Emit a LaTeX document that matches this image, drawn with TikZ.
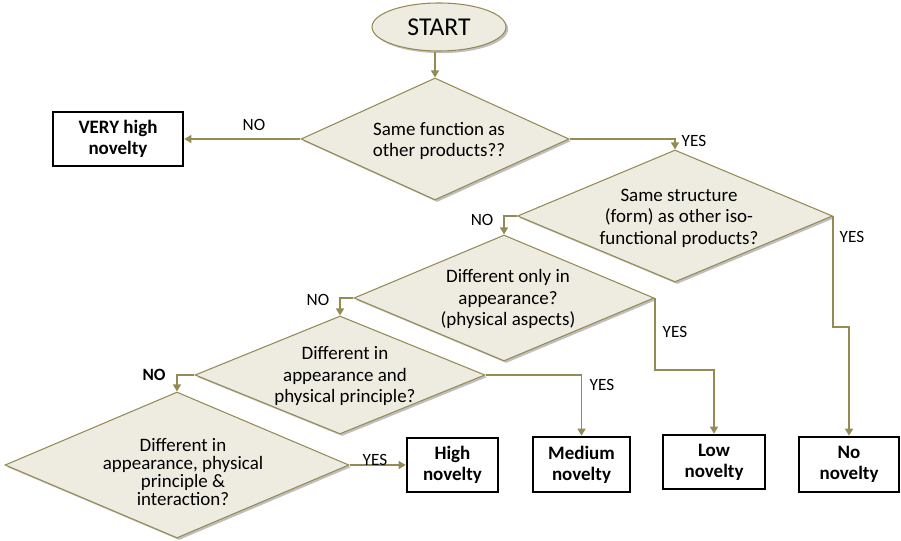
\documentclass[tikz,border=0pt]{standalone}
\usepackage{fontspec}
\setmainfont{Carlito}
\usetikzlibrary{shapes.geometric,arrows.meta,shadows}
\definecolor{flowline}{HTML}{948A54}
\definecolor{boxfill}{HTML}{EEECE1}
\begin{document}
\begin{tikzpicture}[x=0.02cm,y=-0.02cm,
  softshadow/.style={drop shadow={shadow xshift=1.2pt,shadow yshift=-1.2pt,opacity=0.25,fill=black}},
  terminal/.style={ellipse,draw=flowline,line width=0.6pt,fill=boxfill,softshadow,inner sep=0pt,
    minimum width=134*0.02cm,minimum height=48*0.02cm,font=\fontsize{14.6}{16}\selectfont},
  decision/.style 2 args={diamond,draw=flowline,line width=0.6pt,fill=boxfill,softshadow,inner sep=0pt,
    minimum width=#1*0.02cm,minimum height=#2*0.02cm},
  qtext/.style={align=center,inner sep=0pt,font=\fontsize{10.8}{12.2}\selectfont},
  result/.style 2 args={draw=black,line width=1.5pt,fill=white,align=center,inner sep=0pt,
    minimum width=#1*0.02cm,minimum height=#2*0.02cm,font=\bfseries\fontsize{10.8}{11.8}\selectfont},
  lbl/.style={inner sep=0pt,font=\fontsize{9.8}{11}\selectfont},
  flow/.style={draw=flowline,line width=1.1pt,-{Triangle[width=4.5pt,length=4pt]}}]
\useasboundingbox (0,0) rectangle (901,540);
\node[terminal] (start) at (439,27) {START};
\node[decision={268}{122}] (q1) at (435,139) {};
\node[qtext] (q1t) at (439,141) {Same function as\\other products??};
\node[decision={315}{132}] (q2) at (675,216) {};
\node[qtext] (q2t) at (679,218) {Same structure\\(form) as other iso-\\functional products?};
\node[decision={300}{126}] (q3) at (504,298) {};
\node[qtext] (q3t) at (508,299) {Different only in\\appearance?\\(physical aspects)};
\node[decision={290}{118}] (q4) at (340,375) {};
\node[qtext] (q4t) at (345,376) {Different in\\appearance and\\physical principle?};
\node[decision={344}{146}] (q5) at (177,465) {};
\node[qtext,font=\fontsize{10.8}{10.2}\selectfont] (q5t) at (183,472) {Different in\\appearance, physical\\principle \&\\interaction?};
\node[result={130}{54}] (very) at (118,139) {VERY high\\novelty};
\node[result={91}{54}] (high) at (452.5,465) {High\\novelty};
\node[result={97}{55}] (medium) at (581.5,464.5) {Medium\\novelty};
\node[result={102}{54}] (low) at (714,462) {Low\\novelty};
\node[result={100}{55}] (nonov) at (849,464.5) {No\\novelty};
\draw[flow] (start.south -| q1.north) -- (q1.north);
\draw[flow] (q1.west) -- (very.east);
\draw[flow] (q1.east) -| (q2.north);
\draw[flow] (q2.west) -| (q3.north);
\draw[flow] (q2.east) -- ++(0,111) -| (nonov.north);
\draw[flow] (q3.west) -| (q4.north);
\draw[flow] (q3.east) -- ++(0,72) -| (low.north);
\draw[flow] (q4.west) -| (q5.north);
\draw[flow] (q4.east) -| (medium.north);
\draw[flow] (q5.east) -- (high.west);
\node[lbl] (no1) at (254,125) {NO};
\node[lbl] (yes1) at (694,141) {YES};
\node[lbl] (no2) at (482,220) {NO};
\node[lbl] (yes2) at (852,237) {YES};
\node[lbl] (no3) at (318,300) {NO};
\node[lbl] (yes3) at (675,332) {YES};
\node[lbl,font=\bfseries\fontsize{9.8}{11}\selectfont] (no4) at (154,375) {NO};
\node[lbl] (yes4) at (602,385) {YES};
\node[lbl] (yes5) at (375,460) {YES};
\end{tikzpicture}
\end{document}
